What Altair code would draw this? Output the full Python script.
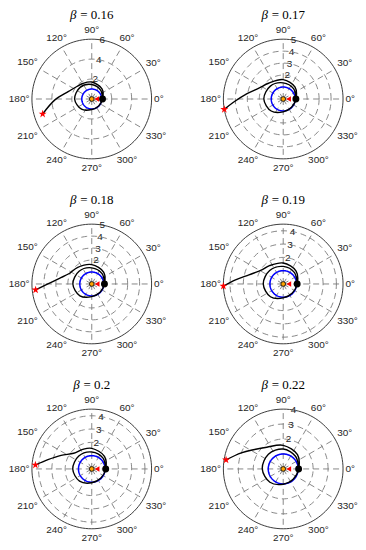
import altair as alt
import pandas as pd
import math

# ---------------- data ----------------
betas = ["0.16", "0.17", "0.18", "0.19", "0.2", "0.22"]
r_limits = [6, 5, 5, 4.5, 4.5, 4]
r_tick_labels = [[2, 4, 6], [2, 3, 4, 5], [2, 3, 4, 5], [2, 3, 4], [2, 3, 4], [2, 3, 4]]
r_grid = [[2, 4], [1, 2, 3, 4], [1, 2, 3, 4], [1, 2, 3, 4], [1, 2, 3, 4], [1, 2, 3]]
theta_ticks = list(range(0, 360, 30))
r_label_angle = 80

# trajectories: cumulative angle (deg) and radius
traj_theta = [
    [0, 45, 90, 135, 180, 225, 270, 315, 360, 405, 450, 480, 500, 522, 541, 557],
    [0, 45, 90, 135, 180, 225, 270, 315, 360, 405, 450, 493, 515, 532, 544, 550],
    [0, 45, 90, 135, 180, 225, 270, 315, 360, 405, 450, 490, 516, 530, 540, 546],
    [0, 45, 90, 135, 180, 225, 270, 315, 360, 405, 450, 487, 508, 525, 535, 542],
    [0, 45, 90, 135, 180, 225, 270, 315, 360, 405, 450, 475, 499, 516, 528, 536],
    [0, 45, 90, 135, 180, 225, 270, 315, 360, 405, 450, 487, 506, 519, 531],
]
traj_r = [
    [1.08, 1.25, 1.45, 1.65, 1.72, 1.45, 1.05, 0.98, 1.08, 1.45, 1.7, 1.8, 1.95, 2.45, 3.67, 5.15],
    [1.06, 1.22, 1.35, 1.52, 1.62, 1.42, 1.07, 0.98, 1.06, 1.4, 1.62, 1.8, 2.2, 3.09, 4.2, 5.0],
    [1.06, 1.22, 1.35, 1.5, 1.58, 1.4, 1.06, 0.98, 1.06, 1.4, 1.62, 1.82, 2.1, 2.74, 3.67, 4.72],
    [1.05, 1.2, 1.32, 1.44, 1.5, 1.36, 1.05, 0.97, 1.05, 1.37, 1.58, 1.72, 1.95, 2.67, 3.6, 4.5],
    [1.05, 1.18, 1.28, 1.38, 1.43, 1.3, 1.04, 0.97, 1.05, 1.35, 1.55, 1.62, 1.8, 2.52, 3.37, 4.25],
    [1.03, 1.18, 1.33, 1.4, 1.4, 1.26, 1.02, 0.96, 1.03, 1.35, 1.58, 1.82, 2.32, 3.0, 3.87],
]
triangle_r = [0.5, 0.45, 0.45, 0.42, 0.4, 0.37]
orbit_r = 1.0

# ---------------- layout / style ----------------
R_PX = 60.0          # outer circle radius in px
PW, PH = 158, 163    # panel size
CX, CY = 83, 89.5    # circle centre inside panel (px from left / top)
LABEL_GAP = 62.5
GRID = "#7a7a7a"
INK = "#262626"
STAR = ("M0,-1L0.2245,-0.309L0.951,-0.309L0.363,0.118L0.588,0.809L0,0.382"
        "L-0.588,0.809L-0.363,0.118L-0.951,-0.309L-0.2245,-0.309Z")

circle_t = list(range(0, 361, 3))


def label_radius(text, t):
    hw = (5.56 * (len(text) - 1) + 4.0) / 2
    hh = 7.0
    c, s = abs(math.cos(math.radians(t))), abs(math.sin(math.radians(t)))
    cands = []
    if c > 1e-6:
        cands.append(hw / c)
    if s > 1e-6:
        cands.append(hh / s)
    return LABEL_GAP + min(cands)


def panel(i):
    rm = r_limits[i]
    xs = alt.Scale(domain=[-CX / R_PX, (PW - CX) / R_PX], nice=False, zero=False)
    ys = alt.Scale(domain=[-(PH - CY) / R_PX, CY / R_PX], nice=False, zero=False)
    X = alt.X("x:Q", scale=xs, axis=None)
    Y = alt.Y("y:Q", scale=ys, axis=None)

    def polar(ch, scale=rm):
        return ch.transform_calculate(
            x=f"datum.r/{scale}*cos(datum.t*PI/180)",
            y=f"datum.r/{scale}*sin(datum.t*PI/180)")

    spokes = pd.DataFrame([{"t": t, "r": r} for t in theta_ticks for r in (0, rm)])
    rings = pd.DataFrame([{"ring": g, "r": g, "t": t} for g in r_grid[i] for t in circle_t])
    outer = pd.DataFrame([{"r": rm, "t": t} for t in circle_t])
    orbit = pd.DataFrame([{"r": orbit_r, "t": t} for t in circle_t])
    alabels = pd.DataFrame([{"t": t, "label": f"{t}°",
                             "r": label_radius(f"{t}°", t)} for t in theta_ticks])
    rlabels = pd.DataFrame([{"t": r_label_angle, "r": v, "label": str(v)} for v in r_tick_labels[i]])
    traj = pd.DataFrame({"idx": range(len(traj_theta[i])), "t": traj_theta[i], "r": traj_r[i]})
    start = pd.DataFrame([{"t": traj_theta[i][0], "r": traj_r[i][0]}])
    end = pd.DataFrame([{"t": traj_theta[i][-1], "r": traj_r[i][-1]}])
    tri = pd.DataFrame([{"t": 0, "r": triangle_r[i]}])
    sun = pd.DataFrame([{"t": 0, "r": 0}])

    l_spokes = polar(alt.Chart(spokes).mark_line(color=GRID, strokeWidth=0.9, strokeDash=[6, 4])).encode(
        x=X, y=Y, detail="t:N", order="r:Q")
    l_rings = polar(alt.Chart(rings).mark_line(color=GRID, strokeWidth=0.9, strokeDash=[6, 4])).encode(
        x=X, y=Y, detail="ring:N", order="t:Q")
    l_outer = polar(alt.Chart(outer).mark_line(color=INK, strokeWidth=0.9)).encode(
        x=X, y=Y, order="t:Q")
    l_alab = polar(alt.Chart(alabels).mark_text(font="Liberation Sans", fontSize=10, color=INK,
                                                 align="center", baseline="middle"),
                   scale=R_PX).encode(x=X, y=Y, text="label:N")
    l_rlab = polar(alt.Chart(rlabels).mark_text(font="Liberation Sans", fontSize=10, color=INK,
                                                 align="center", baseline="middle")).encode(
        x=X, y=Y, text="label:N")
    l_orbit = polar(alt.Chart(orbit).mark_line(color="#0000ff", strokeWidth=1.5)).encode(
        x=X, y=Y, order="t:Q")
    l_traj = polar(alt.Chart(traj).mark_line(color="black", strokeWidth=1.4,
                                            interpolate="catmull-rom")).encode(
        x=X, y=Y, order="idx:Q")
    l_tri = polar(alt.Chart(tri).mark_point(shape="triangle-left", filled=True, color="#ff0000",
                                           size=30, opacity=1)).encode(x=X, y=Y)
    l_start = polar(alt.Chart(start).mark_point(shape="circle", filled=True, color="black",
                                               size=48, opacity=1)).encode(x=X, y=Y)
    l_sun = polar(alt.Chart(sun).mark_point(shape="circle", filled=True, fill="#ffa500",
                                           stroke="black", strokeWidth=0.8, size=22,
                                           opacity=1)).encode(x=X, y=Y)
    l_end = polar(alt.Chart(end).mark_point(shape=STAR, filled=True, color="#ff0000",
                                           size=70, opacity=1)).encode(x=X, y=Y)

    rest = f"= {betas[i]}"
    w_beta, w_sp = 6.9, 3.25
    w_rest = 7.33 + 3.25 + sum(3.25 if ch == "." else 6.5 for ch in betas[i])
    total = w_beta + w_sp + w_rest
    tdf = pd.DataFrame([{"x": 0, "y": 84 / R_PX}])
    l_tb = alt.Chart(tdf).mark_text(text="β", font="Liberation Serif", fontStyle="italic",
                                     fontSize=13, color="black", align="left", baseline="middle",
                                     dx=-total / 2).encode(x=X, y=Y)
    l_tr = alt.Chart(tdf).mark_text(text=rest, font="Liberation Serif", fontSize=13,
                                     color="black", align="left", baseline="middle",
                                     dx=-total / 2 + w_beta + w_sp).encode(x=X, y=Y)

    return alt.layer(l_spokes, l_rings, l_outer, l_alab, l_rlab, l_orbit, l_traj,
                     l_sun, l_tri, l_start, l_end, l_tb, l_tr).properties(width=PW, height=PH)


chart = alt.concat(*[panel(i) for i in range(6)], columns=2,
                   spacing={"row": 22.5, "column": 34}, bounds="flush").properties(
    padding=0
).configure_view(stroke=None)

chart.save("out.html", embed_options={"renderer": "svg", "actions": False})
